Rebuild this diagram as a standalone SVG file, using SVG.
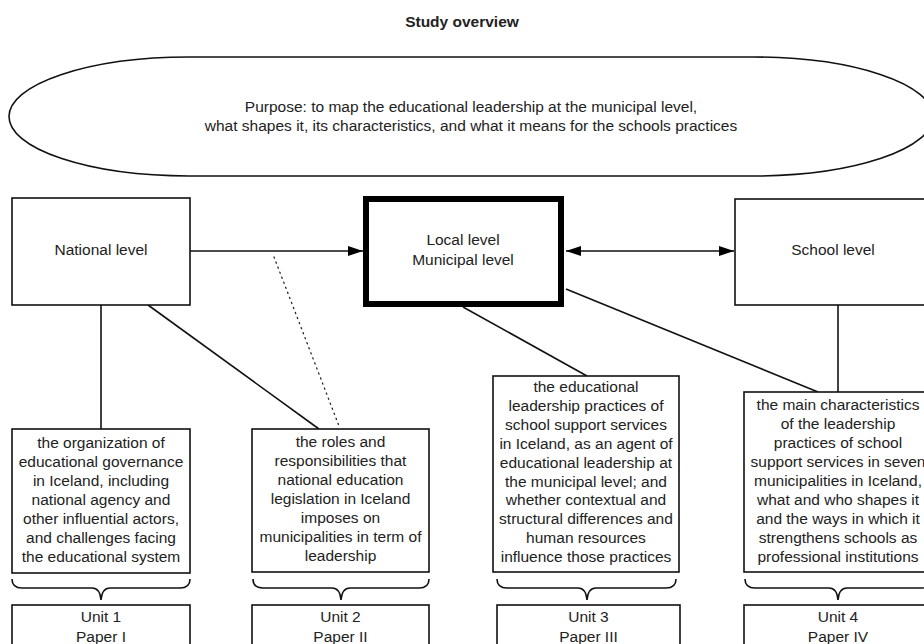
<svg xmlns="http://www.w3.org/2000/svg" width="924" height="644" viewBox="0 0 924 644">
<style>
text{font-family:"Liberation Sans",Arial,sans-serif;font-size:15.5px;fill:#222;text-anchor:middle}
.title{font-weight:bold}
.box{fill:#fff;stroke:#111;stroke-width:1.6}
.thick{fill:#fff;stroke:#000;stroke-width:6}
.ln{fill:none;stroke:#111;stroke-width:1.6}
.dot{fill:none;stroke:#222;stroke-width:1.3;stroke-dasharray:1.2 4.2;stroke-linecap:round}
.brace{fill:none;stroke:#111;stroke-width:1.6}
</style>
<defs>
<marker id="ah" viewBox="0 0 15 10" refX="15" refY="5" markerWidth="15" markerHeight="10" markerUnits="userSpaceOnUse" orient="auto-start-reverse">
<path d="M0,0 L15,5 L0,10 Z" fill="#000"/>
</marker>
</defs>
<text class="title" x="462" y="27">Study overview</text>
<g id="purpose">
<rect x="9" y="57" width="924" height="119" rx="180" ry="59.5" class="box"/>
<text x="471" y="112">Purpose: to map the educational leadership at the municipal level,</text>
<text x="471" y="131">what shapes it, its characteristics, and what it means for the schools practices</text>
</g>
<g id="connectors">
<line class="ln" x1="190" y1="251" x2="363" y2="251" marker-end="url(#ah)"/>
<line class="ln" x1="566" y1="251" x2="734" y2="251" marker-start="url(#ah)" marker-end="url(#ah)"/>
<line class="dot" x1="274" y1="257" x2="339" y2="426"/>
<line class="ln" x1="101" y1="305" x2="101" y2="429"/>
<line class="ln" x1="148" y1="305" x2="319" y2="429"/>
<line class="ln" x1="463" y1="307" x2="587" y2="376"/>
<line class="ln" x1="566" y1="289" x2="818" y2="392"/>
<line class="ln" x1="838" y1="305" x2="838" y2="392"/>
</g>
<g id="national">
<rect x="12" y="198" width="178" height="107" class="box"/>
<text x="101" y="255">National level</text>
</g>
<g id="local">
<rect x="366" y="199" width="195" height="105" class="thick"/>
<text x="463" y="245">Local level</text>
<text x="463" y="265">Municipal level</text>
</g>
<g id="school">
<rect x="735" y="199" width="196" height="106" class="box"/>
<text x="833" y="255">School level</text>
</g>
<g id="desc1">
<rect x="12" y="429" width="178" height="144" class="box"/>
<text x="101" y="448">the organization of</text>
<text x="101" y="467">educational governance</text>
<text x="101" y="486">in Iceland, including</text>
<text x="101" y="505">national agency and</text>
<text x="101" y="524">other influential actors,</text>
<text x="101" y="543">and challenges facing</text>
<text x="101" y="562">the educational system</text>
</g>
<g id="desc2">
<rect x="252" y="429" width="177" height="143" class="box"/>
<text x="340.5" y="447">the roles and</text>
<text x="340.5" y="466">responsibilities that</text>
<text x="340.5" y="485">national education</text>
<text x="340.5" y="504">legislation in Iceland</text>
<text x="340.5" y="523">imposes on</text>
<text x="340.5" y="542">municipalities in term of</text>
<text x="340.5" y="561">leadership</text>
</g>
<g id="desc3">
<rect x="493" y="376" width="186" height="196" class="box"/>
<text x="586" y="392">the educational</text>
<text x="586" y="411">leadership practices of</text>
<text x="586" y="430">school support services</text>
<text x="586" y="449">in Iceland, as an agent of</text>
<text x="586" y="468">educational leadership at</text>
<text x="586" y="487">the municipal level; and</text>
<text x="586" y="505">whether contextual and</text>
<text x="586" y="524">structural differences and</text>
<text x="586" y="543">human resources</text>
<text x="586" y="562">influence those practices</text>
</g>
<g id="desc4">
<rect x="744" y="392" width="188" height="180" class="box"/>
<text x="838" y="410">the main characteristics</text>
<text x="838" y="429">of the leadership</text>
<text x="838" y="448">practices of school</text>
<text x="838" y="467">support services in seven</text>
<text x="838" y="486">municipalities in Iceland,</text>
<text x="838" y="505">what and who shapes it</text>
<text x="838" y="524">and the ways in which it</text>
<text x="838" y="543">strengthens schools as</text>
<text x="838" y="562">professional institutions</text>
</g>
<g id="braces">
<path class="brace" d="M12,579 Q12,588 22,588 L92,588 Q100,588 101,600 Q102,588 110,588 L180,588 Q190,588 190,579"/>
<path class="brace" d="M253,579 Q253,588 263,588 L332,588 Q340,588 341,600 Q342,588 350,588 L419,588 Q429,588 429,579"/>
<path class="brace" d="M497,579 Q497,588 507,588 L578,588 Q586,588 587,600 Q588,588 596,588 L666,588 Q676,588 676,579"/>
<path class="brace" d="M745,579 Q745,588 755,588 L829,588 Q837,588 838,600 Q839,588 847,588 L921,588 Q931,588 931,579"/>
</g>
<g id="unit1">
<rect x="12" y="605" width="178" height="60" class="box"/>
<text x="101" y="622">Unit 1</text>
<text x="101" y="642">Paper I</text>
</g>
<g id="unit2">
<rect x="252" y="605" width="177" height="60" class="box"/>
<text x="340.5" y="622">Unit 2</text>
<text x="340.5" y="642">Paper II</text>
</g>
<g id="unit3">
<rect x="497" y="605" width="183" height="60" class="box"/>
<text x="588.5" y="622">Unit 3</text>
<text x="588.5" y="642">Paper III</text>
</g>
<g id="unit4">
<rect x="744" y="605" width="188" height="60" class="box"/>
<text x="838" y="622">Unit 4</text>
<text x="838" y="642">Paper IV</text>
</g>
</svg>
